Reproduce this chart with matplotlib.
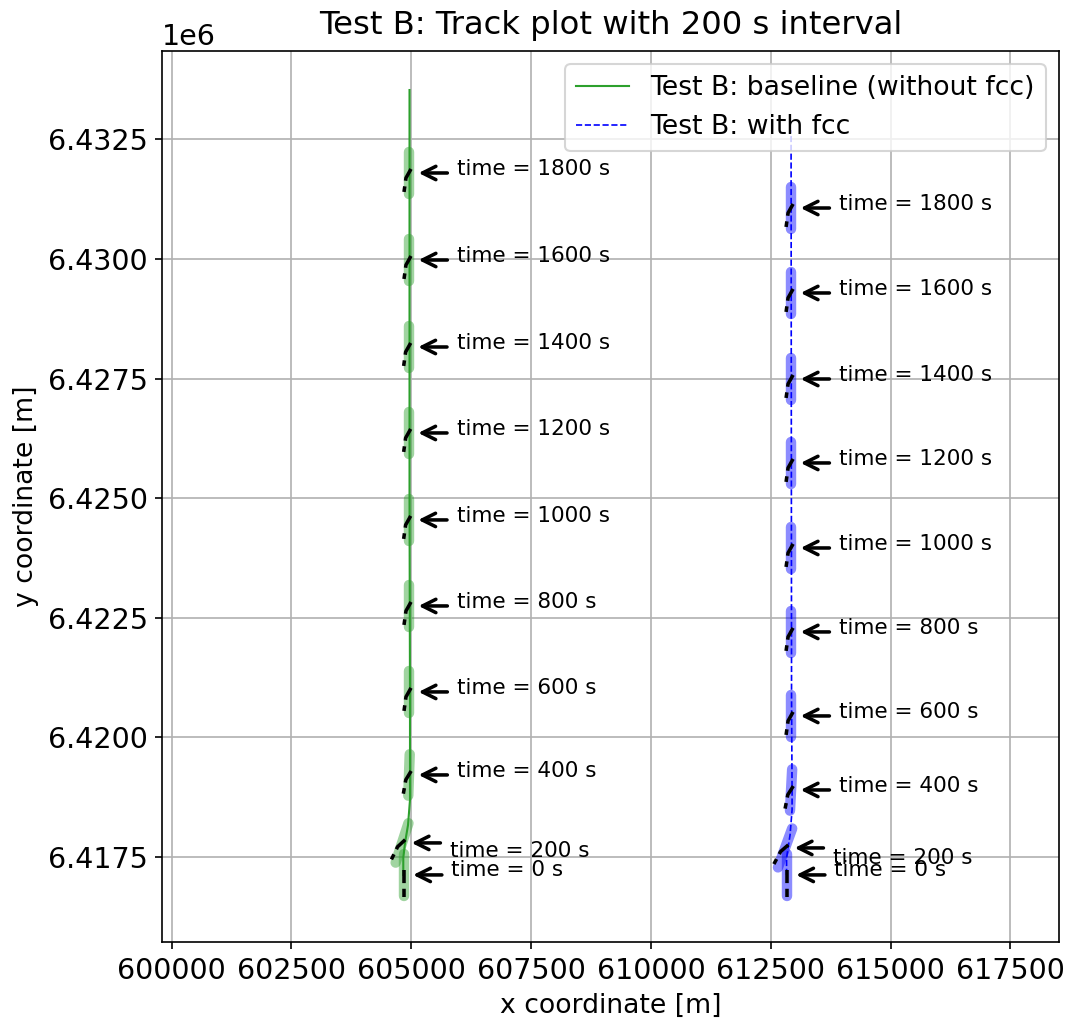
import numpy as np
import matplotlib
matplotlib.use("Agg")
import matplotlib.pyplot as plt

plt.rcParams['font.size'] = 12.8

# ── data (metres) ────────────────────────────────────────────────────────────
times = [0, 200, 400, 600, 800, 1000, 1200, 1400, 1600, 1800]

# ship centre positions at each snapshot
base_x = [604838, 604807, 604952, 604952, 604952, 604945, 604945, 604945, 604952, 604952]
base_y = [6417124, 6417793, 6419214, 6420949, 6422746, 6424544, 6426362, 6428159, 6429977, 6431796]
fcc_x = [612831, 612800, 612925, 612925, 612925, 612925, 612925, 612925, 612925, 612925]
fcc_y = [6417124, 6417688, 6418900, 6420447, 6422203, 6423958, 6425735, 6427490, 6429288, 6431064]
# heading in degrees from north (clockwise)
base_hdg = [0, 18, 2, 0, 0, 0, 0, 0, 0, 0]
fcc_hdg = [0, 20, 3, 0, 0, 0, 0, 0, 0, 0]
# vertical shift of the label text relative to the arrow
base_lab_dy = [105, -160, 84, 84, 84, 84, 84, 84, 84, 84]
fcc_lab_dy = [105, -200, 84, 84, 84, 84, 84, 84, 84, 84]

# centre tracks
base_track_x = [604833, 604833, 604869, 604932, 604973, 604973, 604973, 604963, 604963]
base_track_y = [6417124, 6417479, 6417793, 6418169, 6418692, 6419214, 6420782, 6424962, 6433530]
fcc_track_x = [612831, 612831, 612904, 612946, 612946, 612935, 612925]
fcc_track_y = [6417124, 6417479, 6417960, 6418483, 6418900, 6420782, 6432694]

# black dashed marker inside each hull, offsets (along-ship frame, metres)
rud_normal = [(42, 84), (-63, -104), (-104, -396)]
rud_start = [(0, 104), (0, -460)]

HALF_LEN = 433


def rot(dx, dy, hdg):
    a = np.deg2rad(hdg)
    return dx * np.cos(a) + dy * np.sin(a), -dx * np.sin(a) + dy * np.cos(a)


def draw_ship(ax, x, y, hdg, color, rudder):
    bx, by = rot(0, HALF_LEN, hdg)
    ax.plot([x - bx, x + bx], [y - by, y + by], color=color, alpha=0.45,
            lw=5.0, solid_capstyle='round', zorder=3)
    pts = [rot(dx, dy, hdg) for dx, dy in rudder]
    ax.plot([x + p[0] for p in pts], [y + p[1] for p in pts], 'k--', lw=1.7, zorder=4)


fig = plt.figure(figsize=(1067 / 150, 1028 / 150), dpi=150)
ax = fig.add_axes([0.1521, 0.0837, 0.8404, 0.8667])

ax.plot(base_track_x, base_track_y, color='tab:green', lw=1.0,
        label='Test B: baseline (without fcc)', zorder=2.5)
ax.plot(fcc_track_x, fcc_track_y, 'b--', lw=0.8, label='Test B: with fcc', zorder=2.5)

for xs, ys, hd, dys, col in [(base_x, base_y, base_hdg, base_lab_dy, 'tab:green'),
                             (fcc_x, fcc_y, fcc_hdg, fcc_lab_dy, 'b')]:
    for i, t in enumerate(times):
        draw_ship(ax, xs[i], ys[i], hd[i], col, rud_start if t == 0 else rud_normal)
        ax.annotate('', xy=(xs[i] + 200, ys[i]), xytext=(xs[i] + 800, ys[i]),
                    arrowprops=dict(arrowstyle='->,head_length=0.5,head_width=0.25',
                                    lw=1.7, color='k', shrinkA=0, shrinkB=0), zorder=5)
        ax.text(xs[i] + 1000, ys[i] + dys[i], f'time = {t} s', fontsize=10.3,
                va='center', ha='left', zorder=5)

ax.set_xlim(599804, 618516)
ax.set_ylim(6415723, 6434346)
ax.xaxis.set_major_locator(matplotlib.ticker.MultipleLocator(2500))
ax.yaxis.set_major_locator(matplotlib.ticker.MultipleLocator(2500))
ax.tick_params(labelsize=13.7)
ax.yaxis.get_offset_text().set_fontsize(13.7)
ax.grid(True)
ax.set_xlabel('x coordinate [m]')
ax.set_ylabel('y coordinate [m]')
ax.set_title('Test B: Track plot with 200 s interval', fontsize=15.5, pad=8)
ax.legend(loc='upper right')

fig.savefig('out.png', dpi=150)
